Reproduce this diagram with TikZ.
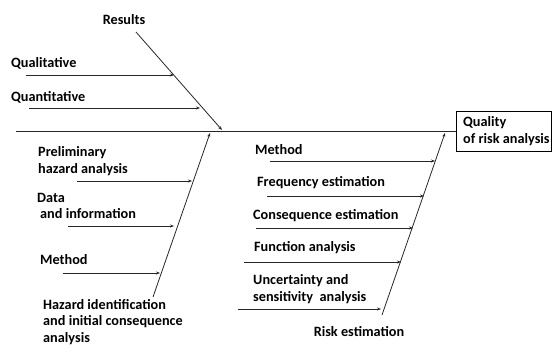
\documentclass[tikz,border=0pt]{standalone}
\usepackage{fontspec}
\setmainfont{Carlito}
\usetikzlibrary{arrows.meta}
\begin{document}
\begin{tikzpicture}[x=1bp,y=-1bp,
  fnt/.style={font=\bfseries\fontsize{14.3}{16.5}\selectfont, inner sep=0pt},
  lbl/.style={fnt, align=left, anchor=west},
  ln/.style={line width=0.8pt, black!85},
  arr/.style={ln, -{Stealth[length=4pt,width=3pt]}}]
\useasboundingbox (0,0) rectangle (552,354);
% box
\node[draw, line width=0.8pt, minimum width=95bp, minimum height=40bp, inner sep=0pt] (q) at (503.5,131) {};
\node[lbl] (qt) at (463,131) {Quality\\of risk analysis};
% spine
\coordinate (s0) at (16,131);
\draw[ln] (s0) -- (q.west);
% results bone
\coordinate (r0) at (136,32);
\coordinate (r1) at (222,130);
\draw[arr] (r0) -- (r1);
\node[fnt] (res) at (124,20) {Results};
\node[lbl] (ql) at (11,63) {Qualitative};
\coordinate (ql0) at (26,75); \coordinate (ql1) at (174,75);
\draw[arr] (ql0) -- (ql1);
\node[lbl] (qn) at (11,97) {Quantitative};
\coordinate (qn0) at (29,108); \coordinate (qn1) at (200,108);
\draw[arr] (qn0) -- (qn1);
% hazard bone
\coordinate (h0) at (153,297);
\coordinate (h1) at (210,133);
\draw[arr] (h0) -- (h1);
\node[lbl] (pha) at (38,161) {Preliminary\\hazard analysis};
\coordinate (a1s) at (77,181); \coordinate (a1e) at (192,181);
\draw[arr] (a1s) -- (a1e);
\node[lbl] (dai) at (37,206) {Data\\\hspace{3bp}and information};
\coordinate (a2s) at (68,226); \coordinate (a2e) at (174,226);
\draw[arr] (a2s) -- (a2e);
\node[lbl] (m1) at (40,260) {Method};
\coordinate (a3s) at (63,273); \coordinate (a3e) at (160,273);
\draw[arr] (a3s) -- (a3e);
\node[lbl] (hid) at (43,322) {Hazard identification\\and initial consequence\\analysis};
% risk estimation bone
\coordinate (e0) at (382,315);
\coordinate (e1) at (445,133);
\draw[arr] (e0) -- (e1);
\node[lbl] (m2) at (255,150) {Method};
\coordinate (b1s) at (270,161); \coordinate (b1e) at (435,161);
\draw[arr] (b1s) -- (b1e);
\node[lbl] (fe) at (257,183) {Frequency estimation};
\coordinate (b2s) at (267,196); \coordinate (b2e) at (424,196);
\draw[arr] (b2s) -- (b2e);
\node[lbl] (ce) at (253,216) {Consequence estimation};
\coordinate (b3s) at (256,228); \coordinate (b3e) at (413,228);
\draw[arr] (b3s) -- (b3e);
\node[lbl] (fa) at (254,248) {Function analysis};
\coordinate (b4s) at (244,262); \coordinate (b4e) at (401,262);
\draw[arr] (b4s) -- (b4e);
\node[lbl] (usa) at (253,289) {Uncertainty and\\sensitivity\ \ analysis};
\coordinate (b5s) at (238,309); \coordinate (b5e) at (381,309);
\draw[arr] (b5s) -- (b5e);
\node[fnt] (re) at (359,332) {Risk estimation};
\end{tikzpicture}
\end{document}
